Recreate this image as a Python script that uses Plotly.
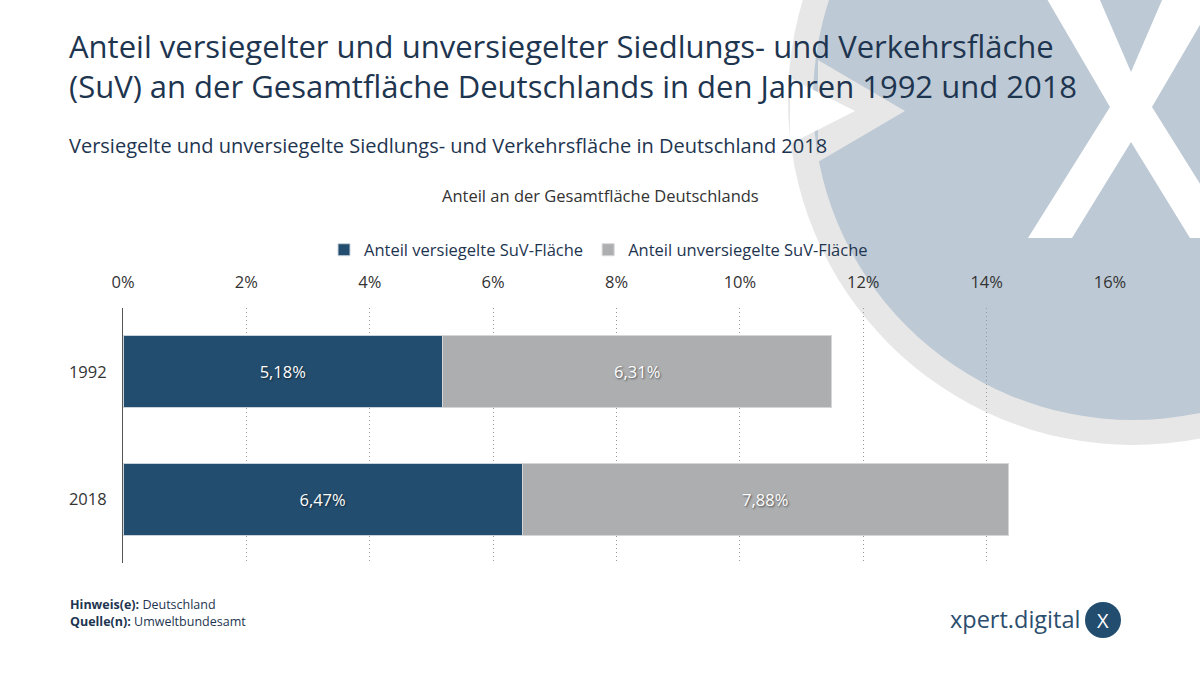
import plotly.graph_objects as go

# ---- data ----
years = ["1992", "2018"]
sealed = [5.18, 6.47]
unsealed = [6.31, 7.88]
series_names = ["Anteil versiegelte SuV-Fläche", "Anteil unversiegelte SuV-Fläche"]
tick_vals = [0, 2, 4, 6, 8, 10, 12, 14, 16]
tick_text = ["0%", "2%", "4%", "6%", "8%", "10%", "12%", "14%", "16%"]

title_text = ("Anteil versiegelter und unversiegelter Siedlungs- und Verkehrsfläche<br>"
              "(SuV) an der Gesamtfläche Deutschlands in den Jahren 1992 und 2018")
subtitle = "Versiegelte und unversiegelte Siedlungs- und Verkehrsfläche in Deutschland 2018"
axis_title = "Anteil an der Gesamtfläche Deutschlands"

# ---- layout geometry (pixels) ----
W, H = 1200, 675
ML, MR, MT, MB = 123, 90, 308, 112
PW, PH = W - ML - MR, H - MT - MB


def px(x):
    return (x - ML) / PW


def py(y):
    return (H - MB - y) / PH


NAVY = "#234d6e"
GREY = "#adaeb0"
TXT = "#1e3550"
FONT = "Open Sans"
CHART_FS = 16.5

fig = go.Figure()
for vals, name, col, edge in [(sealed, series_names[0], NAVY, "#c9d3dc"),
                              (unsealed, series_names[1], GREY, "#d6d6d6")]:
    fig.add_trace(go.Bar(
        y=years, x=vals, name=name, orientation="h",
        marker=dict(color=col, line=dict(color=edge, width=1)),
        text=vals, texttemplate="%{x:.2f}%", textposition="inside",
        insidetextanchor="middle", textangle=0,
        textfont=dict(color="white", size=CHART_FS, family=FONT,
                      shadow="1px 1px 2px rgba(0,0,0,0.55)"),
        hoverinfo="skip",
    ))

shapes = []
# background decorative circle
cx, cy, r_out, r_in = 1133, 100, 345, 320
shapes.append(dict(type="circle", xref="paper", yref="paper", layer="below",
                   x0=px(cx - r_out), x1=px(cx + r_out), y0=py(cy + r_out), y1=py(cy - r_out),
                   fillcolor="#e7e7e7", line=dict(width=0)))
shapes.append(dict(type="circle", xref="paper", yref="paper", layer="below",
                   x0=px(cx - r_in), x1=px(cx + r_in), y0=py(cy + r_in), y1=py(cy - r_in),
                   fillcolor="#bdc9d5", line=dict(width=0)))


def poly(points):
    return "M " + " L ".join(f"{px(a):.5f},{py(b):.5f}" for a, b in points) + " Z"


# notch on the left side of the circle
shapes.append(dict(type="path", xref="paper", yref="paper", layer="below",
                   path=poly([(818, 60), (905, 111), (818, 162)]),
                   fillcolor="#e7e7e7", line=dict(width=0)))
shapes.append(dict(type="path", xref="paper", yref="paper", layer="below",
                   path=poly([(790, 78), (855, 111), (790, 144)]),
                   fillcolor="white", line=dict(width=0)))
# big white X
xc = 1131
X_pts = [(1030, -30), (1087, -30), (xc, 72), (2 * xc - 1087, -30), (2 * xc - 1030, -30),
         (2 * xc - 1110, 107), (2 * xc - 1028, 238), (2 * xc - 1072, 238), (xc, 142),
         (1072, 238), (1028, 238), (1110, 107)]
shapes.append(dict(type="path", xref="paper", yref="paper", layer="below",
                   path=poly(X_pts), fillcolor="white", line=dict(width=0)))
# logo circle
lx, ly, lr = 1103, 620, 18
shapes.append(dict(type="circle", xref="paper", yref="paper", layer="above",
                   x0=px(lx - lr), x1=px(lx + lr), y0=py(ly + lr), y1=py(ly - lr),
                   fillcolor=NAVY, line=dict(width=0)))

annotations = [
    dict(text=title_text, x=px(67), y=py(66), xanchor="left", yanchor="middle", align="left",
         font=dict(family=FONT, size=31, color=TXT)),
    dict(text=subtitle, x=px(67), y=py(145), xanchor="left", yanchor="middle",
         font=dict(family=FONT, size=20, color=TXT)),
    dict(text=axis_title, x=px(600), y=py(195), xanchor="center", yanchor="middle",
         font=dict(family=FONT, size=CHART_FS, color="#333333")),
    dict(text="<b>Hinweis(e):</b> Deutschland", x=px(68), y=py(604), xanchor="left", yanchor="middle",
         font=dict(family=FONT, size=12.5, color=TXT)),
    dict(text="<b>Quelle(n):</b> Umweltbundesamt", x=px(68), y=py(621), xanchor="left", yanchor="middle",
         font=dict(family=FONT, size=12.5, color=TXT)),
    dict(text="xpert.digital", x=px(1082), y=py(619), xanchor="right", yanchor="middle",
         font=dict(family=FONT, size=23.5, color="#2c4e6e")),
    dict(text="X", x=px(lx), y=py(ly), xanchor="center", yanchor="middle",
         font=dict(family=FONT, size=20, color="white")),
]
for a in annotations:
    a.update(xref="paper", yref="paper", showarrow=False)

fig.update_layout(
    width=W, height=H,
    margin=dict(l=ML, r=MR, t=MT, b=MB, autoexpand=False),
    paper_bgcolor="white", plot_bgcolor="rgba(0,0,0,0)",
    barmode="stack", bargap=0.435,
    separators=",.",
    font=dict(family=FONT, color="#333333"),
    showlegend=True,
    legend=dict(orientation="h", xref="container", yref="container",
                x=324 / W, y=1 - 250 / H, xanchor="left", yanchor="middle",
                font=dict(family=FONT, size=CHART_FS, color=TXT), itemwidth=30,
                bgcolor="rgba(0,0,0,0)", traceorder="normal"),
    shapes=shapes,
    annotations=annotations,
    xaxis=dict(side="top", range=[0, 16], tickvals=tick_vals, ticktext=tick_text,
               showgrid=True, gridcolor="#9a9a9a", griddash="1px,3px", gridwidth=1,
               zeroline=False, showline=False, ticks="outside", ticklen=12,
               tickcolor="rgba(0,0,0,0)", automargin=False,
               tickfont=dict(size=CHART_FS, color="#333333", family=FONT),
               fixedrange=True),
    yaxis=dict(categoryorder="array", categoryarray=years, autorange="reversed",
               showline=True, linecolor="#555555", linewidth=1, showgrid=False,
               ticks="outside", ticklen=12, tickcolor="rgba(0,0,0,0)", automargin=False,
               tickfont=dict(size=CHART_FS, color="#333333", family=FONT), fixedrange=True),
)

fig.write_html("out.html")
